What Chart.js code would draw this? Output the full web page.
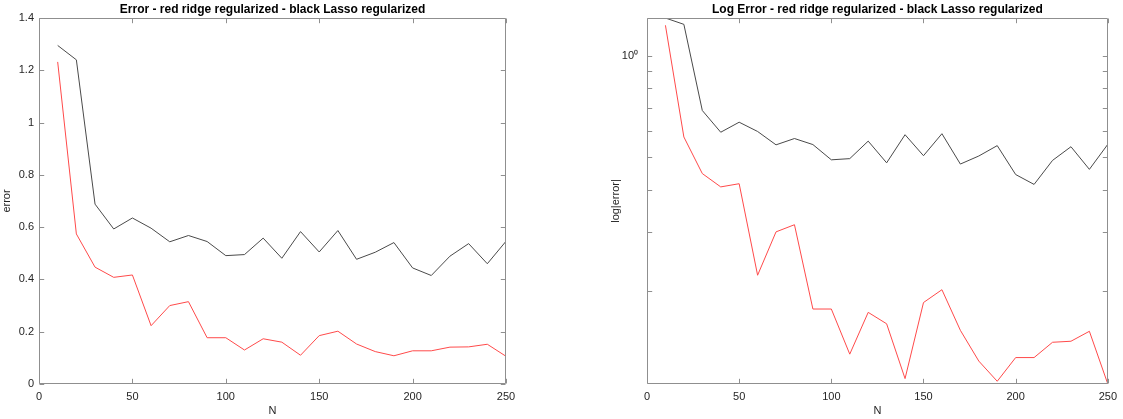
<!DOCTYPE html>
<html><head><meta charset="utf-8">
<script src="https://cdn.jsdelivr.net/npm/chart.js@4.4.1/dist/chart.umd.min.js"></script>
<style>
html,body{margin:0;padding:0;background:#fff;width:1123px;height:419px;overflow:hidden}
canvas{position:absolute;top:0}
#c1{left:0}
#c2{left:560px}
</style></head><body>
<canvas id="c1" width="560" height="419"></canvas>
<canvas id="c2" width="563" height="419"></canvas>
<script>
// ---- data ----
const N = [10,20,30,40,50,60,70,80,90,100,110,120,130,140,150,160,170,180,190,200,210,220,230,240,250];
const ridgeError = [1.232,0.574,0.447,0.408,0.417,0.223,0.300,0.315,0.177,0.177,0.130,0.173,0.160,0.110,0.185,0.202,0.153,0.124,0.108,0.127,0.127,0.141,0.142,0.152,0.106];
const lassoError = [1.295,1.240,0.688,0.593,0.635,0.596,0.544,0.568,0.545,0.491,0.495,0.558,0.481,0.583,0.505,0.587,0.477,0.504,0.541,0.444,0.415,0.489,0.537,0.460,0.546];
const xTickValues = [0,50,100,150,200,250];
const linTickValues = [0,0.2,0.4,0.6,0.8,1,1.2,1.4];
const logTickValues = [0.2,0.3,0.4,0.5,0.6,0.7,0.8,0.9,1];
const logTickLabels = {1: '10\u2070'};
const title1 = 'Error - red ridge regularized - black Lasso regularized';
const title2 = 'Log Error - red ridge regularized - black Lasso regularized';

Chart.defaults.font.family = '"Liberation Sans", Arial, Helvetica, sans-serif';
Chart.defaults.color = '#262626';
Chart.defaults.animation = false;

const AXIS_COLOR = '#8f8f8f';
const TICK_LEN = 4.7;

const boxTicks = {
  id: 'boxTicks',
  afterDraw(chart) {
    const {ctx, chartArea: a} = chart;
    const xs = chart.scales.x, ys = chart.scales.y;
    ctx.save();
    ctx.strokeStyle = AXIS_COLOR;
    ctx.lineWidth = 1;
    const L = Math.round(a.left) + 0.5, R = Math.round(a.right) - 0.5;
    const T = Math.round(a.top) + 0.5, B = Math.round(a.bottom) - 0.5;
    ctx.beginPath();
    ctx.rect(L, T, R - L, B - T);
    xs.ticks.forEach(t => {
      const p = Math.round(xs.getPixelForValue(t.value)) + 0.5;
      ctx.moveTo(p, B); ctx.lineTo(p, B - TICK_LEN);
      ctx.moveTo(p, T); ctx.lineTo(p, T + TICK_LEN);
    });
    ys.ticks.forEach(t => {
      const p = Math.round(ys.getPixelForValue(t.value)) + 0.5;
      ctx.moveTo(L, p); ctx.lineTo(L + TICK_LEN, p);
      ctx.moveTo(R, p); ctx.lineTo(R - TICK_LEN, p);
    });
    ctx.stroke();
    ctx.restore();
  }
};

function datasets() {
  return [
    {label: 'ridge', data: N.map((n, i) => ({x: n, y: ridgeError[i]})), borderColor: '#ff4a4a', borderWidth: 1, pointRadius: 0, tension: 0, fill: false},
    {label: 'Lasso', data: N.map((n, i) => ({x: n, y: lassoError[i]})), borderColor: '#4a4a4a', borderWidth: 1, pointRadius: 0, tension: 0, fill: false}
  ];
}

function xScale(heightPx) {
  return {
    type: 'linear', min: 0, max: 250,
    afterBuildTicks: s => { s.ticks = xTickValues.map(v => ({value: v})); },
    afterFit: s => { s.height = heightPx; },
    grid: {display: false, drawTicks: false},
    border: {display: false},
    ticks: {font: {size: 11}, padding: 6, color: '#262626', autoSkip: false, maxRotation: 0},
    title: {display: true, text: 'N', font: {size: 11}, color: '#262626', padding: {top: 0, bottom: 0}}
  };
}

function titleOpts(text) {
  return {display: true, text, fullSize: false, color: '#000',
    font: {size: 12, weight: 'bold'}, padding: {top: 2, bottom: 1.6}};
}

// Left: linear error
new Chart(document.getElementById('c1'), {
  type: 'line',
  data: {datasets: datasets()},
  options: {
    responsive: false,
    layout: {padding: {left: 0, right: 54, top: 0, bottom: 1}},
    plugins: {legend: {display: false}, tooltip: {enabled: false}, title: titleOpts(title1)},
    scales: {
      x: xScale(34),
      y: {
        type: 'linear', min: 0, max: 1.4,
        afterBuildTicks: s => { s.ticks = linTickValues.map(v => ({value: v})); },
        afterFit: s => { s.width = 39; },
        grid: {display: false, drawTicks: false},
        border: {display: false},
        ticks: {font: {size: 11}, padding: 5, color: '#262626', autoSkip: false,
          callback: v => String(Math.round(v * 10) / 10)},
        title: {display: true, text: 'error', font: {size: 11}, color: '#262626', padding: {top: 0, bottom: 0}}
      }
    }
  },
  plugins: [boxTicks]
});

// Right: log error
const logMin = Math.min(...ridgeError, ...lassoError);
const logMax = Math.max(...ridgeError, ...lassoError);
new Chart(document.getElementById('c2'), {
  type: 'line',
  data: {datasets: datasets()},
  options: {
    responsive: false,
    layout: {padding: {left: 49, right: 9, top: 0, bottom: 1}},
    plugins: {legend: {display: false}, tooltip: {enabled: false}, title: titleOpts(title2)},
    scales: {
      x: xScale(34),
      y: {
        type: 'logarithmic', min: logMin, max: logMax,
        afterBuildTicks: s => { s.ticks = logTickValues.map(v => ({value: v})); },
        afterFit: s => { s.width = 38; },
        grid: {display: false, drawTicks: false},
        border: {display: false},
        ticks: {font: {size: 11}, padding: 9, color: '#262626', autoSkip: false,
          callback: v => logTickLabels[v] || ''},
        title: {display: true, text: 'log|error|', font: {size: 11}, color: '#262626', padding: {top: 0, bottom: 0}}
      }
    }
  },
  plugins: [boxTicks]
});
</script>
</body></html>
